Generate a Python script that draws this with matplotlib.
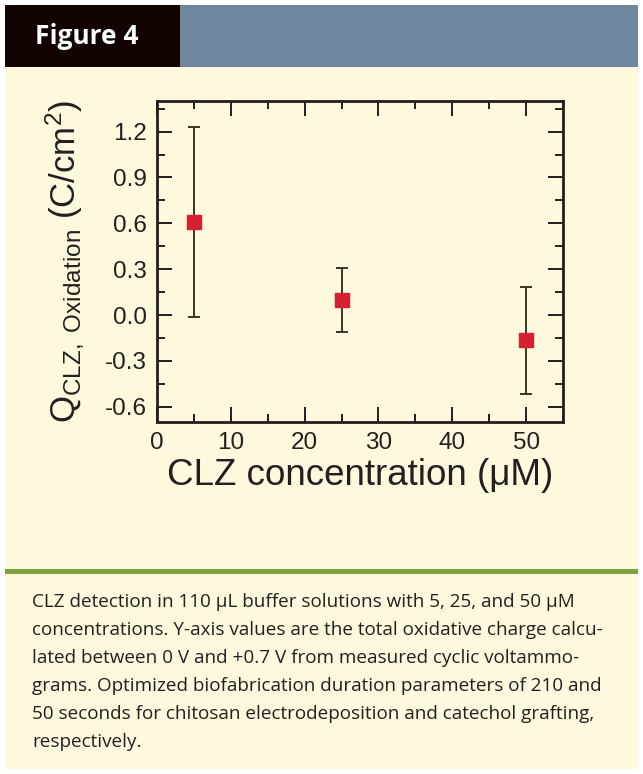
import numpy as np
import matplotlib
matplotlib.use("Agg")
import matplotlib.pyplot as plt
from matplotlib.patches import Rectangle
from matplotlib.ticker import MultipleLocator

# data
conc = [5, 25, 50]
charge = [0.61, 0.10, -0.165]
charge_err = [0.62, 0.21, 0.35]

caption_lines = [
    "CLZ detection in 110 \u00b5L buffer solutions with 5, 25, and 50 \u00b5M",
    "concentrations. Y-axis values are the total oxidative charge calcu-",
    "lated between 0 V and +0.7 V from measured cyclic voltammo-",
    "grams. Optimized biofabrication duration parameters of 210 and",
    "50 seconds for chitosan electrodeposition and catechol grafting,",
    "respectively.",
]

W, H = 643, 774
cream = "#fef8dc"

plt.rcParams["font.family"] = ["Liberation Sans", "DejaVu Sans"]
plt.rcParams["mathtext.fontset"] = "custom"
plt.rcParams["mathtext.rm"] = "Liberation Sans"
plt.rcParams["mathtext.it"] = "Liberation Sans:italic"

fig = plt.figure(figsize=(W / 100, H / 100), dpi=100, facecolor="white")


def box(x0, y0, x1, y1, color):
    # pixel box (top-left origin) -> figure fraction
    fig.add_artist(Rectangle((x0 / W, 1 - y1 / H), (x1 - x0) / W, (y1 - y0) / H,
                             transform=fig.transFigure, color=color, lw=0, zorder=0))


box(5, 67, 638, 769, cream)
box(5, 5, 180, 67, "#120300")
box(180, 5, 638, 67, "#6e879e")
box(5, 569, 638, 574, "#7ea23f")

fig.text(35 / W, 1 - 37 / H, "Figure 4", color="white", fontsize=19, fontweight="bold",
         family=["Open Sans", "DejaVu Sans"], va="center", ha="left")

for i, line in enumerate(caption_lines):
    fig.text(32 / W, 1 - (602 + i * 28) / H, line, fontsize=13.6,
             family=["Open Sans", "DejaVu Sans"], color="#231f20", va="center", ha="left")

ax = fig.add_axes([157 / W, 1 - 422 / H, (563 - 157) / W, (422 - 101) / H])
ax.set_facecolor(cream)

ax.errorbar(conc, charge, yerr=charge_err, fmt="none", ecolor="#3a3428", elinewidth=1.4,
            capsize=4, capthick=1.4, zorder=2)
ax.plot(conc, charge, ls="none", marker="s", ms=10, color="#d42030", zorder=3)

ax.set_xlim(0, 55)
ax.set_ylim(-0.7, 1.4)
ax.xaxis.set_major_locator(MultipleLocator(10))
ax.xaxis.set_minor_locator(MultipleLocator(5))
ax.yaxis.set_minor_locator(MultipleLocator(0.15))
ax.set_yticks([1.2, 0.9, 0.6, 0.3, 0.0, -0.3, -0.6])
ax.set_yticklabels(["1.2", "0.9", "0.6", "0.3", "0.0", "-0.3", "-0.6"])
ax.tick_params(which="both", direction="in", top=True, right=True, width=1.4, color="#231f20")
ax.tick_params(which="major", length=11, labelsize=17.5, pad=7, labelcolor="#231f20")
ax.tick_params(which="minor", length=6)
for s in ax.spines.values():
    s.set_linewidth(2)
    s.set_color("#231f20")

ax.set_xlabel("CLZ concentration (\u03bcM)", fontsize=26.5, labelpad=3, color="#231f20")
ax.set_ylabel(r"$\mathrm{Q}_{\mathrm{CLZ,\ Oxidation}}$ (C/cm$^2$)", fontsize=25,
              labelpad=14, color="#231f20")

fig.savefig("out.png", dpi=100, facecolor="white")
